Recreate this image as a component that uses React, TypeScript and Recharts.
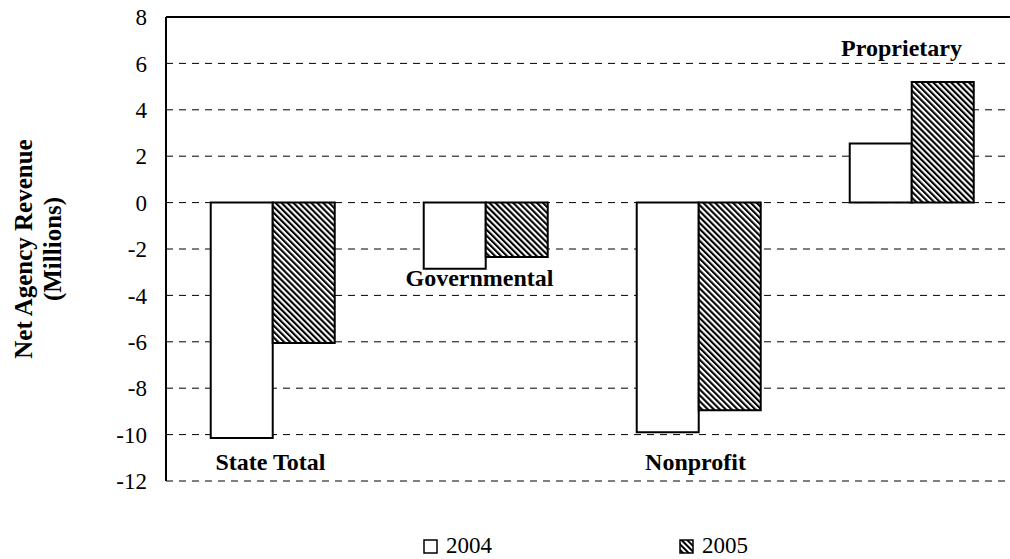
import React from 'react';
import { BarChart, Bar, XAxis, YAxis, CartesianGrid, ReferenceLine, ReferenceDot, Legend } from 'recharts';

const categories = ['State Total', 'Governmental', 'Nonprofit', 'Proprietary'];
const values2004 = [-10.15, -2.85, -9.9, 2.55];
const values2005 = [-6.05, -2.35, -8.95, 5.2];
const yTicks = [-12, -10, -8, -6, -4, -2, 0, 2, 4, 6, 8];
const seriesNames = ['2004', '2005'];

const data = categories.map((c, i) => ({ name: c, v2004: values2004[i], v2005: values2005[i] }));

// label placement (styling only), in axis units / pixel offsets
const labelPlacement: Record<string, { y: number; dx: number }> = {
  'State Total': { y: -11.2, dx: -2 },
  'Governmental': { y: -3.23, dx: -6 },
  'Nonprofit': { y: -11.2, dx: -3 },
  'Proprietary': { y: 6.68, dx: -10 },
};

const FONT = '"Liberation Serif", "Times New Roman", Times, serif';

const YTitle = (props: any) => {
  const vb = props.viewBox || { x: 0, y: 17, width: 166, height: 464 };
  const cy = vb.y + vb.height / 2;
  return (
    <g>
      <text x={23} y={cy} transform={`rotate(-90, 23, ${cy})`} textAnchor="middle" dominantBaseline="central"
        fontFamily={FONT} fontWeight="bold" fontSize={25} fill="#000">Net Agency Revenue</text>
      <text x={52} y={cy} transform={`rotate(-90, 52, ${cy})`} textAnchor="middle" dominantBaseline="central"
        fontFamily={FONT} fontWeight="bold" fontSize={25} fill="#000">(Millions)</text>
    </g>
  );
};

const CatLabel = (text: string, dx: number) => (props: any) => {
  const vb = props.viewBox || {};
  const cx = (vb.x ?? 0) + (vb.width ?? 0) / 2 + dx;
  const cy = (vb.y ?? 0) + (vb.height ?? 0) / 2;
  return (
    <text x={cx} y={cy} textAnchor="middle" dominantBaseline="central" fontFamily={FONT}
      fontWeight="bold" fontSize={24} fill="#000">{text}</text>
  );
};

const HatchIcon = () => (
  <svg width={15} height={15} style={{ display: 'block' }}>
    <defs>
      <pattern id="hatchLegend" patternUnits="userSpaceOnUse" width="4" height="4" patternTransform="rotate(-45)">
        <rect width="4" height="4" fill="#fff" />
        <rect width="2" height="4" fill="#000" />
      </pattern>
    </defs>
    <rect x={1} y={1} width={13} height={13} fill="url(#hatchLegend)" stroke="#000" strokeWidth={1.5} />
  </svg>
);
const PlainIcon = () => (
  <svg width={15} height={15} style={{ display: 'block' }}>
    <rect x={1} y={1} width={13} height={13} fill="#fff" stroke="#000" strokeWidth={1.5} />
  </svg>
);

const renderLegend = () => (
  <div style={{ position: 'relative', width: 1010, height: 30, fontFamily: FONT, fontSize: 23, color: '#000' }}>
    <div style={{ position: 'absolute', left: 423, top: 0, display: 'flex', alignItems: 'center', gap: 8 }}>
      <PlainIcon />
      <span>{seriesNames[0]}</span>
    </div>
    <div style={{ position: 'absolute', left: 679, top: 0, display: 'flex', alignItems: 'center', gap: 8 }}>
      <HatchIcon />
      <span>{seriesNames[1]}</span>
    </div>
  </div>
);

export default function App() {
  return (
    <div style={{ width: 1010, height: 559, overflow: 'hidden', position: 'relative', background: '#fff' }}>
      <style>{'body{margin:0;overflow:hidden;background:#fff}'}</style>
      <BarChart width={1030} height={559} data={data} margin={{ top: 17, right: 12, bottom: 78, left: 0 }}
        barCategoryGap="21%" barGap={0}>
        <defs>
          <pattern id="hatch" patternUnits="userSpaceOnUse" width="4.2" height="4.2" patternTransform="rotate(-45)">
            <rect width="4.2" height="4.2" fill="#fff" />
            <rect width="2.1" height="4.2" fill="#000" />
          </pattern>
        </defs>
        <CartesianGrid vertical={false} stroke="#000" strokeDasharray="7 6" strokeWidth={1} />
        <XAxis dataKey="name" height={0} tick={false} tickLine={false} axisLine={{ stroke: '#000', strokeWidth: 2 }} />
        <YAxis domain={[-12, 8]} ticks={yTicks} interval={0} width={166} tickLine={false} tickSize={0} tickMargin={19}
          axisLine={{ stroke: '#000', strokeWidth: 2 }}
          tick={{ fontFamily: FONT, fontSize: 23, fill: '#000' }}
          label={<YTitle />} />
        <ReferenceLine y={8} stroke="#000" strokeWidth={2} />
        <Bar dataKey="v2004" name={seriesNames[0]} fill="#fff" stroke="#000" strokeWidth={2} isAnimationActive={false} />
        <Bar dataKey="v2005" name={seriesNames[1]} fill="url(#hatch)" stroke="#000" strokeWidth={2} isAnimationActive={false} />
        {categories.map((c) => (
          <ReferenceDot key={c} x={c} y={labelPlacement[c].y} r={0} fill="none" stroke="none"
            label={CatLabel(c, labelPlacement[c].dx)} />
        ))}
        <Legend verticalAlign="middle" align="center" layout="horizontal" content={renderLegend}
          wrapperStyle={{ top: 533, left: 0, width: 1010, height: 30 }} />
      </BarChart>
    </div>
  );
}
